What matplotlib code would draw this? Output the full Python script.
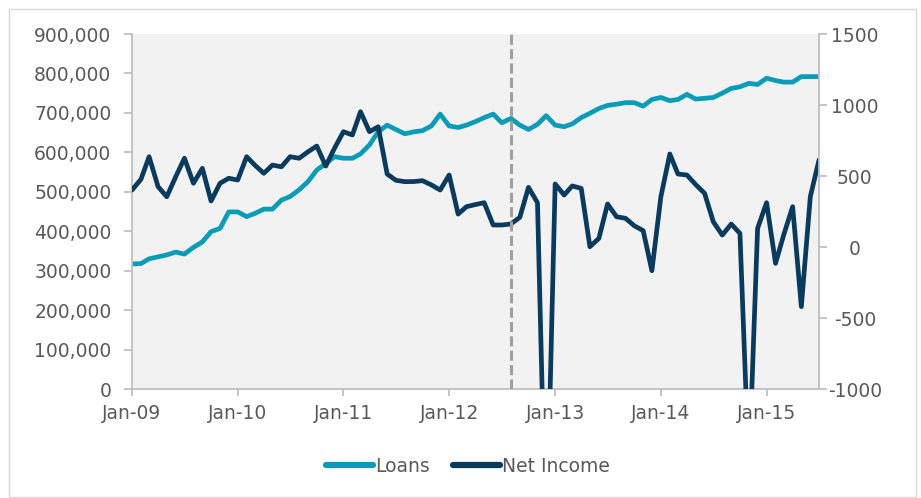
import numpy as np
import pandas as pd
import matplotlib
matplotlib.use("Agg")
import matplotlib.pyplot as plt
import matplotlib.dates as mdates
from matplotlib.ticker import FuncFormatter

# monthly data, Jan-09 .. Jul-15
months = pd.date_range("2009-01-01", periods=79, freq="MS")
loans = [317000, 318000, 330000, 335000, 340000, 347000, 342000, 359000, 373000, 399000,
         407000, 449000, 449000, 437000, 445000, 456000, 456000, 479000, 488000, 505000,
         526000, 555000, 572000, 589000, 585000, 585000, 596000, 619000, 652000, 669000,
         658000, 647000, 652000, 655000, 667000, 697000, 667000, 663000, 669000, 678000,
         688000, 697000, 675000, 686000, 669000, 658000, 671000, 693000, 669000, 665000,
         672000, 688000, 699000, 711000, 719000, 722000, 726000, 726000, 717000, 734000,
         739000, 731000, 734000, 747000, 735000, 737000, 739000, 750000, 762000, 766000,
         775000, 772000, 788000, 782000, 778000, 778000, 792000, 792000, 792000]
net_income = [401, 477, 636, 425, 354, 495, 625, 449, 554, 324,
              449, 484, 472, 636, 577, 519, 577, 565, 636, 625,
              671, 711, 570, 695, 812, 789, 953, 812, 847, 514,
              470, 460, 461, 467, 437, 401, 507, 232, 284, 299,
              312, 155, 155, 162, 209, 420, 312, -2150, 444, 366,
              430, 413, 2, 61, 303, 213, 202, 150, 115, -167,
              354, 655, 514, 507, 440, 378, 178, 84, 162, 96,
              -1570, 132, 312, -115, 84, 284, -420, 354, 613]
split_date = pd.Timestamp("2012-08-01")
year_ticks = pd.date_range("2009-01-01", "2015-01-01", freq="YS")
left_ticks = list(range(0, 900001, 100000))
right_ticks = list(range(-1000, 1501, 500))

teal = "#0A9BB7"
navy = "#0A3A5C"
grey_axis = "#BFBFBF"
label_col = "#595959"
fs = 13.5

fig = plt.figure(figsize=(9.21, 4.98), dpi=100)
ax = fig.add_axes([132 / 921, 1 - 389 / 498, (819 - 132) / 921, (389 - 34) / 498])
ax.set_facecolor("#F2F2F2")
ax2 = ax.twinx()

l1, = ax.plot(months, loans, color=teal, lw=3.4, solid_joinstyle="round",
              solid_capstyle="round", label="Loans")
l2, = ax2.plot(months, net_income, color=navy, lw=3.4, solid_joinstyle="round",
               solid_capstyle="round", label="Net Income")
ax2.axvline(split_date, color="#A0A0A0", lw=2.2, ls=(0, (3.3, 1.4)), zorder=5)

ax.set_xlim(months[0], months[-1])
ax.set_ylim(0, 900000)
ax2.set_ylim(-1000, 1500)
ax.set_yticks(left_ticks)
ax2.set_yticks(right_ticks)
ax.yaxis.set_major_formatter(FuncFormatter(lambda v, p: f"{v:,.0f}"))
ax2.yaxis.set_major_formatter(FuncFormatter(lambda v, p: f"{v:.0f}"))
ax.set_xticks(year_ticks)
ax.xaxis.set_major_formatter(mdates.DateFormatter("%b-%y"))

for a in (ax, ax2):
    a.spines["top"].set_visible(False)
    for s in a.spines.values():
        s.set_color(grey_axis)
        s.set_linewidth(1.3)
ax.spines["right"].set_visible(False)
ax2.spines["left"].set_visible(False)
ax2.spines["bottom"].set_visible(False)

ax.tick_params(axis="y", length=5.8, width=1.3, color=grey_axis,
               labelcolor=label_col, labelsize=fs, pad=9)
ax.tick_params(axis="x", length=5, width=1.3, color=grey_axis,
               labelcolor=label_col, labelsize=fs, pad=6)
ax2.tick_params(axis="y", length=5.8, width=1.3, color=grey_axis,
                labelcolor=label_col, labelsize=fs, pad=20)
for lbl in ax2.get_yticklabels():
    lbl.set_horizontalalignment("center")

leg = fig.legend([l1, l2], ["Loans", "Net Income"], loc="center",
                 bbox_to_anchor=(468 / 921, 1 - 466 / 498), ncol=2, frameon=False,
                 fontsize=fs, handlelength=2.5, handletextpad=0.15, columnspacing=1.2)
for t in leg.get_texts():
    t.set_color(label_col)
for h in leg.get_lines():
    h.set_linewidth(4.5)

fig.add_artist(plt.Rectangle((9 / 921, 1 / 498), 907 / 921, 488 / 498,
                             transform=fig.transFigure, fill=False,
                             ec="#D9D9D9", lw=1))

fig.savefig("out.png", dpi=100)
